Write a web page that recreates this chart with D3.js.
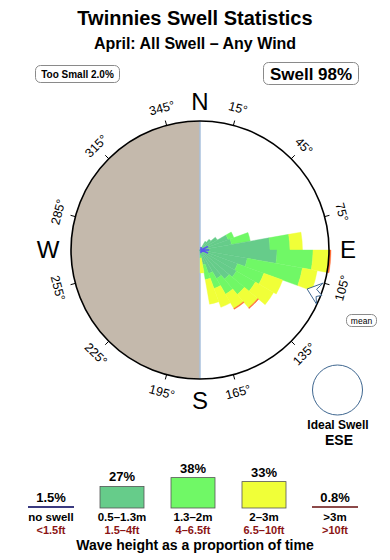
<!DOCTYPE html>
<html>
<head>
<meta charset="utf-8">
<script src="https://cdn.jsdelivr.net/npm/d3@7"></script>
<style>
  html, body { margin: 0; padding: 0; background: #fff; }
  svg text { font-family: "Liberation Sans", Arial, Helvetica, sans-serif; }
</style>
</head>
<body>
<svg id="chart" width="390" height="560"></svg>
<script>
// ---------------- data ----------------
const title = "Twinnies Swell Statistics";
const subtitle = "April: All Swell \u2013 Any Wind";
const tooSmallPct = 2.0;
const swellPct = 98;
const idealSwell = "ESE";
const meanDirection = 110;

// direction sector centres (degrees, compass)
const directions = [35, 45, 55, 65, 75, 85, 95, 105, 115, 125, 135, 145, 155, 165, 175];
// per-direction share of each wave-height bin (stacked outward)
const bin1 = [1.0, 1.4, 2.0, 3.0, 3.2, 7.0, 7.7, 4.8, 4.0, 4.2, 3.8, 3.3, 2.5, 1.5, 0.5]; // 0.5-1.3m
const bin2 = [0.0, 0.0, 0.0, 0.6, 1.9, 2.0, 3.6, 5.6, 2.8, 2.2, 2.0, 1.8, 1.6, 1.5, 0.3]; // 1.3-2m
const bin3 = [0.0, 0.0, 0.0, 0.0, 0.0, 1.25, 1.6, 1.5, 2.0, 2.1, 1.75, 1.65, 2.0, 2.5, 1.5]; // 2-3m
const bin4 = [0.0, 0.0, 0.0, 0.0, 0.0, 0.0, 0.2, 0.0, 0.0, 0.0, 0.1, 0.1, 0.0, 0.0, 0.0]; // >3m

const tickAngles = [15, 45, 75, 105, 135, 165, 195, 225, 255, 285, 315, 345];
const cardinals = ["N", "E", "S", "W"];

const legendKeys = ["none", "b1", "b2", "b3", "b4"];
const legendPct = [1.5, 27, 38, 33, 0.8];
const legendPctText = ["1.5%", "27%", "38%", "33%", "0.8%"];
const legendMetres = ["no swell", "0.5\u20131.3m", "1.3\u20132m", "2\u20133m", ">3m"];
const legendFeet = ["<1.5ft", "1.5\u20134ft", "4\u20136.5ft", "6.5\u201310ft", ">10ft"];
const binColors = ["#3a3a80", "#66cc8a", "#70f866", "#f0ff38", "#ff6a33"];

// ---------------- layout ----------------
const svg = d3.select("#chart");
const cx = 200, cy = 250, R = 129;
const rScale = d3.scaleLinear().domain([0, 12.9]).range([0, R]);
const deg = Math.PI / 180;

// titles
svg.append("text").attr("x", 195).attr("y", 25).attr("text-anchor", "middle")
  .attr("font-size", 20).attr("font-weight", "bold").text(title);
svg.append("text").attr("x", 195).attr("y", 49).attr("text-anchor", "middle")
  .attr("font-size", 16).attr("font-weight", "bold").text(subtitle);

// Too small / Swell boxes
function labelBox(x, y, w, h, txt, fs, weight) {
  svg.append("rect").attr("x", x).attr("y", y).attr("width", w).attr("height", h)
    .attr("rx", 5).attr("fill", "#fff").attr("stroke", "#8a8a8a").attr("stroke-width", 1);
  svg.append("text").attr("x", x + w / 2).attr("y", y + h / 2).attr("dy", "0.36em")
    .attr("text-anchor", "middle").attr("font-size", fs).attr("font-weight", weight).text(txt);
}
labelBox(35.5, 65.5, 84, 17, "Too Small " + tooSmallPct.toFixed(1) + "%", 10, "bold");
labelBox(263.5, 62.5, 95, 22, "Swell " + swellPct + "%", 17, "bold");

const g = svg.append("g").attr("transform", `translate(${cx},${cy})`);

// left (land) half
g.append("path")
  .attr("d", d3.arc()({ innerRadius: 0, outerRadius: R, startAngle: Math.PI, endAngle: 2 * Math.PI }))
  .attr("fill", "#c4b9ac");
g.append("line").attr("x1", 0).attr("x2", 0).attr("y1", -R).attr("y2", R)
  .attr("stroke", "#a9c1dc").attr("stroke-width", 1.5);

// stacked rose wedges
const stackData = directions.map((d, i) => ({ dir: d, vals: [bin1[i], bin2[i], bin3[i], bin4[i]] }));
const arc = d3.arc();
stackData.forEach(s => {
  let acc = 0;
  s.vals.forEach((v, k) => {
    if (v <= 0) return;
    const r0 = rScale(acc), r1 = rScale(acc + v);
    acc += v;
    g.append("path")
      .attr("d", arc({ innerRadius: r0, outerRadius: r1,
                       startAngle: (s.dir - 5) * deg, endAngle: (s.dir + 5) * deg }))
      .attr("fill", binColors[k + 1]).attr("stroke", binColors[k + 1]).attr("stroke-width", 0.4);
  });
});

// no-swell marker at centre
g.append("path").attr("d", "M8,-3.5 L1,0 L8,3 M1,0 L9,0 M1,-3 L1,3")
  .attr("fill", "none").attr("stroke", "#5a55ee").attr("stroke-width", 1.5);

// compass circle
g.append("circle").attr("r", R).attr("fill", "none").attr("stroke", "#000").attr("stroke-width", 1.6);

// ticks and degree labels
tickAngles.forEach(a => {
  const s = Math.sin(a * deg), c = -Math.cos(a * deg);
  g.append("line").attr("x1", s * R).attr("y1", c * R).attr("x2", s * (R + 5)).attr("y2", c * (R + 5))
    .attr("stroke", "#000").attr("stroke-width", 1);
  let rot = a < 90 ? a : (a < 270 ? a - 180 : a - 360);
  const lr = 147;
  g.append("text")
    .attr("transform", `translate(${s * lr},${c * lr}) rotate(${rot})`)
    .attr("text-anchor", "middle").attr("dy", "0.35em")
    .attr("font-size", 12.5).text(a + "\u00b0");
});

// cardinal labels
const cardPos = { N: [0, -140], E: [148, 8], S: [0, 159], W: [-152, 8] };
cardinals.forEach(k => {
  g.append("text").attr("x", cardPos[k][0]).attr("y", cardPos[k][1])
    .attr("text-anchor", "middle").attr("font-size", 24).text(k);
});

// mean direction arrow (arrowhead pointing to centre)
(function () {
  const a = meanDirection * deg;
  const ux = Math.sin(a), uy = -Math.cos(a);   // radial unit
  const px = -uy, py = ux;                     // perpendicular unit
  const P = (r, o) => [ux * r + px * o, uy * r + py * o];
  const pts = [P(114, 0), P(127, -11), P(123, -3), P(130, 1), P(125, 4), P(128, 11)];
  g.append("path").attr("d", "M" + pts.map(p => p.map(v => v.toFixed(2)).join(",")).join("L") + "Z")
    .attr("fill", "#fff").attr("stroke", "#3f6790").attr("stroke-width", 1);
})();

// mean label
labelBox(346.5, 314.5, 30, 12, "mean", 8.5, "normal");

// ideal swell
svg.append("circle").attr("cx", 337.5).attr("cy", 390).attr("r", 25)
  .attr("fill", "#fff").attr("stroke", "#3f6790").attr("stroke-width", 1);
svg.append("text").attr("x", 338).attr("y", 429).attr("text-anchor", "middle")
  .attr("font-size", 12).attr("font-weight", "bold").text("Ideal Swell");
svg.append("text").attr("x", 339).attr("y", 445).attr("text-anchor", "middle")
  .attr("font-size", 14).attr("font-weight", "bold").text(idealSwell);

// ---------------- legend ----------------
const lx = d3.scalePoint().domain(legendKeys).range([51, 335]);
const hScale = d3.scaleLinear().domain([0, 38]).range([0, 30.4]);
const baseY = 508;
legendKeys.forEach((k, i) => {
  const x = lx(k);
  let topY;
  if (i === 0 || i === 4) {
    svg.append("line").attr("x1", x - 23).attr("x2", x + 23).attr("y1", 507).attr("y2", 507)
      .attr("stroke", i === 0 ? "#3a3a80" : "#8c4a4a").attr("stroke-width", 2);
    topY = 507;
  } else {
    const h = hScale(legendPct[i]);
    svg.append("rect").attr("x", x - 22).attr("y", baseY - h).attr("width", 44).attr("height", h)
      .attr("fill", binColors[i]).attr("stroke", "#555").attr("stroke-width", 0.8);
    topY = baseY - h;
  }
  svg.append("text").attr("x", x).attr("y", topY - 5).attr("text-anchor", "middle")
    .attr("font-size", 13).attr("font-weight", "bold").text(legendPctText[i]);
  svg.append("text").attr("x", x).attr("y", 521).attr("text-anchor", "middle")
    .attr("font-size", 11.5).attr("font-weight", "bold").text(legendMetres[i]);
  svg.append("text").attr("x", x).attr("y", 533.5).attr("text-anchor", "middle")
    .attr("font-size", 11).attr("font-weight", "bold").attr("fill", "#8b1414").text(legendFeet[i]);
});
svg.append("text").attr("x", 195).attr("y", 550).attr("text-anchor", "middle")
  .attr("font-size", 14).attr("font-weight", "bold").text("Wave height as a proportion of time");
</script>
</body>
</html>
